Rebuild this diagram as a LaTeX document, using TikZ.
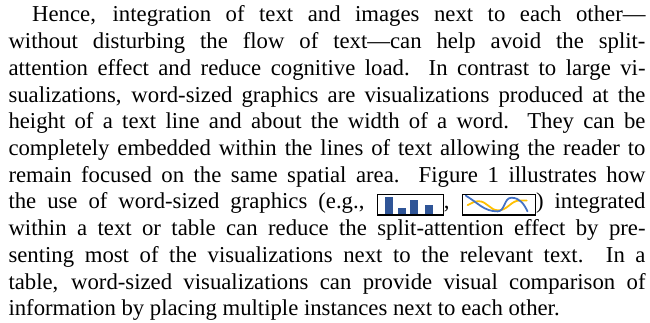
\documentclass[tikz,border=0pt]{standalone}
\usepackage{fontspec}
\setmainfont{Liberation Serif}
\definecolor{barblue}{HTML}{2F5597}
\definecolor{lineblue}{HTML}{4472C4}
\definecolor{lineorange}{HTML}{FFC000}
\tikzset{
  paragraph/.style={anchor=north west, inner sep=0pt, text width=269pt, align=justify,
    font=\fontsize{9.6pt}{11.28pt}\selectfont},
  sparkframe/.style={draw=black, line width=0.5pt},
  sparkbar/.style={fill=barblue},
  sparkline/.style={line width=0.75pt, line cap=round},
}
\newcommand\sparkbars{\tikz[baseline=2.6pt,x=27.9pt,y=8.6pt]{%
  \fill[sparkbar] (0.117,0.06) rectangle (0.243,0.88);
  \fill[sparkbar] (0.31,0.06) rectangle (0.43,0.34);
  \fill[sparkbar] (0.50,0.06) rectangle (0.62,0.72);
  \fill[sparkbar] (0.72,0.06) rectangle (0.845,0.49);
  \draw[sparkframe] (0,0) rectangle (1,1);}}
\newcommand\sparkwave{\tikz[baseline=2.6pt,x=30.8pt,y=8.6pt]{%
  \draw[sparkline, lineorange] (0.07,0.49) to[out=25,in=180] (0.22,0.68)
     to[out=0,in=180] (0.49,0.23) to[out=0,in=180] (0.79,0.72) -- (0.88,0.72);
  \draw[sparkline, lineblue] (0.045,0.95) to[out=-30,in=180] (0.48,0.18)
     to[out=0,in=180] (0.67,0.85) to[out=0,in=115] (0.89,0.18);
  \draw[sparkframe] (0,0) rectangle (1,1);}}
\begin{document}
\begin{tikzpicture}
\useasboundingbox (0,0) rectangle (274.5pt,-136.4pt);
\node[paragraph] (para) at (3.4pt,-2.3pt) {\noindent\hspace*{10pt}Hence, integration of text and images next to each other---\linebreak
without disturbing the flow of text---can help avoid the split-\linebreak
attention effect and reduce cognitive load. In contrast to large vi-\linebreak
sualizations, word-sized graphics are visualizations produced at the\linebreak
height of a text line and about the width of a word. They can be\linebreak
completely embedded within the lines of text allowing the reader to\linebreak
remain focused on the same spatial area. Figure~1 illustrates how\linebreak
the use of word-sized graphics (e.g., \sparkbars, \sparkwave) integrated\linebreak
within a text or table can reduce the split-attention effect by pre-\linebreak
senting most of the visualizations next to the relevant text. In a\linebreak
table, word-sized visualizations can provide visual comparison of\linebreak
information by placing multiple instances next to each other.};
\end{tikzpicture}
\end{document}
